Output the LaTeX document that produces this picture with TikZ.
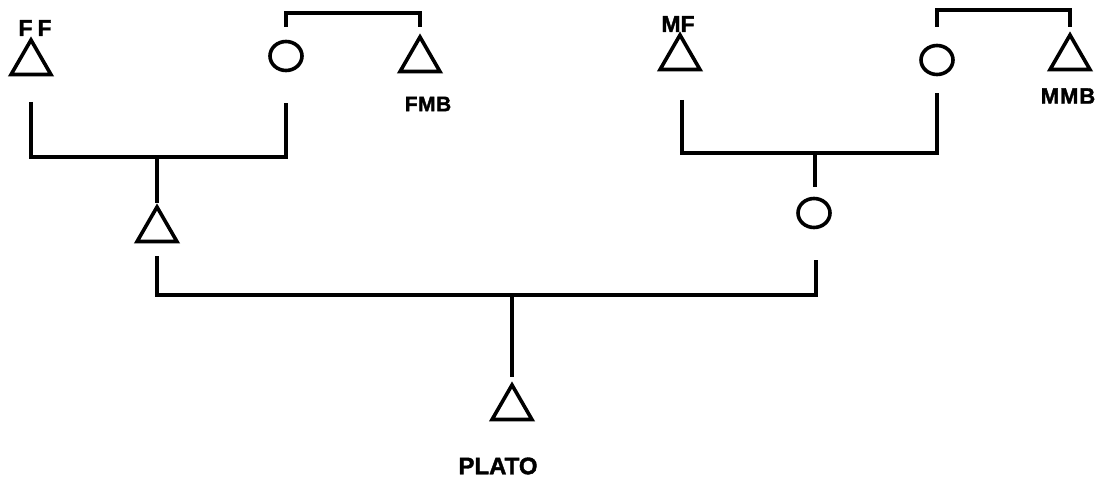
\documentclass[tikz,border=0pt]{standalone}
\usepackage{fontspec}
\setmainfont{Liberation Sans}[BoldFeatures={FakeBold=1.6}]
\usetikzlibrary{shapes.geometric}

\tikzset{
  male/.style={draw, regular polygon, regular polygon sides=3, minimum size=46pt,
               inner sep=0pt, outer sep=0pt, line width=3.6pt, line join=miter},
  female/.style={draw, ellipse, minimum width=32pt, minimum height=29pt,
                 inner sep=0pt, outer sep=0pt, line width=3.6pt},
  kin/.style={line width=4.8pt, line cap=butt, line join=miter},
  tag/.style={inner sep=0pt}
}

\begin{document}
\begin{tikzpicture}[x=1pt, y=-1pt]
  \useasboundingbox (0,0) rectangle (1105,484);

  % father's side
  \node[male]   (ff)  at (31,63)   {};
  \node[female] (fm)  at (286,56)  {};
  \node[male]   (fmb) at (420,60)  {};
  \node[male]   (fa)  at (157,230) {};

  % mother's side
  \node[male]   (mf)  at (680,58)  {};
  \node[female] (mm)  at (937,60)  {};
  \node[male]   (mmb) at (1070,58) {};
  \node[female] (mo)  at (814,213) {};

  % ego
  \node[male]   (ego) at (512,408) {};

  % labels
  \node[tag, font=\fontsize{23}{23}\selectfont\bfseries] (lff)  at (35,28)   {F\hspace{5pt}F};
  \node[tag, font=\fontsize{21}{21}\selectfont\bfseries] (lfmb) at (428,104) {F\hspace{0.5pt}M\hspace{0.5pt}B};
  \node[tag, font=\fontsize{23}{23}\selectfont\bfseries] (lmf)  at (678,24)  {MF};
  \node[tag, font=\fontsize{22}{22}\selectfont\bfseries] (lmmb) at (1068,96) {M\hspace{1pt}M\hspace{1pt}B};
  \node[tag, font=\fontsize{24}{24}\selectfont\bfseries] (lego) at (498,466) {PLATO};

  % sibling brackets
  \draw[kin] (fm.north |- 0,27) -- (fm.north |- 0,13) -| (fmb.north |- 0,27);
  \draw[kin] (mm.north |- 0,27) -- (mm.north |- 0,10) -| (mmb.north |- 0,27);

  % marriage lines and descent
  \draw[kin] (ff.south |- 0,102) |- (fm.south |- 0,157) -- (fm.south |- 0,103);
  \draw[kin] (fa.north |- 0,157) -- (fa.north |- 0,203);

  \draw[kin] ([xshift=2pt]mf.south |- 0,100) |- (mm.south |- 0,153) -- (mm.south |- 0,93);
  \draw[kin] ([xshift=1pt]mo.north |- 0,153) -- ([xshift=1pt]mo.north |- 0,187);

  \draw[kin] (fa.south |- 0,256) |- ([xshift=2pt]mo.south |- 0,295) -- ([xshift=2pt]mo.south |- 0,260);
  \draw[kin] (ego.north |- 0,295) -- (ego.north |- 0,377);
\end{tikzpicture}
\end{document}
